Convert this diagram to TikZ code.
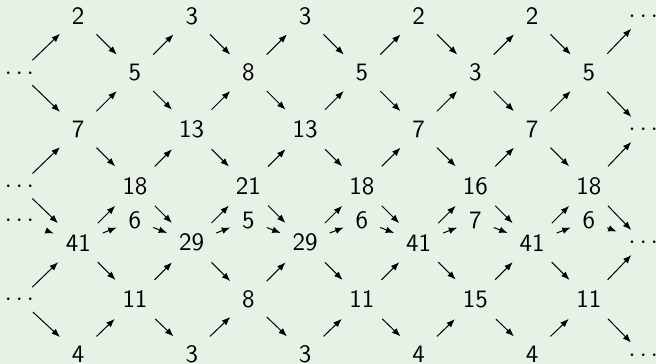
\documentclass[tikz,border=0pt]{standalone}
\usetikzlibrary{arrows.meta}
\definecolor{bgc}{rgb}{0.9,0.95,0.9}
\begin{document}
\begin{tikzpicture}[x=0.4pt,y=-0.4pt,
  num/.style={font=\sffamily, inner xsep=4.6pt, inner ysep=4.2pt},
  dts/.style={inner xsep=4.6pt, inner ysep=4.2pt, text height=1.2pt, text depth=0pt},
  arr/.style={-{Latex[length=3.4pt,width=2.6pt]}, line width=0.4pt}]
\fill[bgc] (0,0) rectangle (656,364);
\useasboundingbox (0,0) rectangle (656,364);
\newcommand{\dotsbox}{\raisebox{-1.9pt}{$\cdots$}}
% row 0
\foreach \c/\v in {1/2,3/3,5/3,7/2,9/2}
  \node[num] (r0-\c) at ({21.5+56.75*\c},16.2) {\v};
\node[dts] (r0-11) at (643.3,16.2) {\dotsbox};
% row 1
\node[dts] (r1-0) at (19.4,72.8) {\dotsbox};
\foreach \c/\v in {2/5,4/8,6/5,8/3,10/5}
  \node[num] (r1-\c) at ({21.5+56.75*\c},72.8) {\v};
% row 2
\foreach \c/\v in {1/7,3/13,5/13,7/7,9/7}
  \node[num] (r2-\c) at ({21.5+56.75*\c},129.5) {\v};
\node[dts] (r2-11) at (643.3,129.5) {\dotsbox};
% row 3
\node[dts] (r3-0) at (19.4,186.1) {\dotsbox};
\foreach \c/\v in {2/18,4/21,6/18,8/16,10/18}
  \node[num] (r3-\c) at ({21.5+56.75*\c},186.1) {\v};
% middle row
\node[dts] (rm-0) at (19.4,220.5) {\dotsbox};
\foreach \c/\v in {2/6,4/5,6/6,8/7,10/6}
  \node[num] (rm-\c) at ({21.5+56.75*\c},220.3) {\v};
% row 4
\foreach \c/\v in {1/41,3/29,5/29,7/41,9/41}
  \node[num] (r4-\c) at ({21.5+56.75*\c},242.7) {\v};
\node[dts] (r4-11) at (643.3,242.5) {\dotsbox};
% row 5
\node[dts] (r5-0) at (19.4,299.6) {\dotsbox};
\foreach \c/\v in {2/11,4/8,6/11,8/15,10/11}
  \node[num] (r5-\c) at ({21.5+56.75*\c},299.4) {\v};
% row 6
\foreach \c/\v in {1/4,3/3,5/3,7/4,9/4}
  \node[num] (r6-\c) at ({21.5+56.75*\c},354) {\v};
\node[dts] (r6-11) at (643.3,355) {\dotsbox};
% outgoing arrows
\foreach \c in {0,2,...,10}{
  \pgfmathtruncatemacro\p{\c+1}
  \draw[arr] (r1-\c) -- (r0-\p);
  \draw[arr] (r1-\c) -- (r2-\p);
  \draw[arr] (r3-\c) -- (r2-\p);
  \draw[arr] (r3-\c) -- (r4-\p);
  \draw[arr] (rm-\c) -- (r4-\p);
  \draw[arr] (r5-\c) -- (r4-\p);
  \draw[arr] (r5-\c) -- (r6-\p);
}
% incoming arrows
\foreach \c in {2,4,...,10}{
  \pgfmathtruncatemacro\m{\c-1}
  \draw[arr] (r0-\m) -- (r1-\c);
  \draw[arr] (r2-\m) -- (r1-\c);
  \draw[arr] (r2-\m) -- (r3-\c);
  \draw[arr] (r4-\m) -- (r3-\c);
  \draw[arr] (r4-\m) -- (rm-\c);
  \draw[arr] (r4-\m) -- (r5-\c);
  \draw[arr] (r6-\m) -- (r5-\c);
}
\end{tikzpicture}
\end{document}
